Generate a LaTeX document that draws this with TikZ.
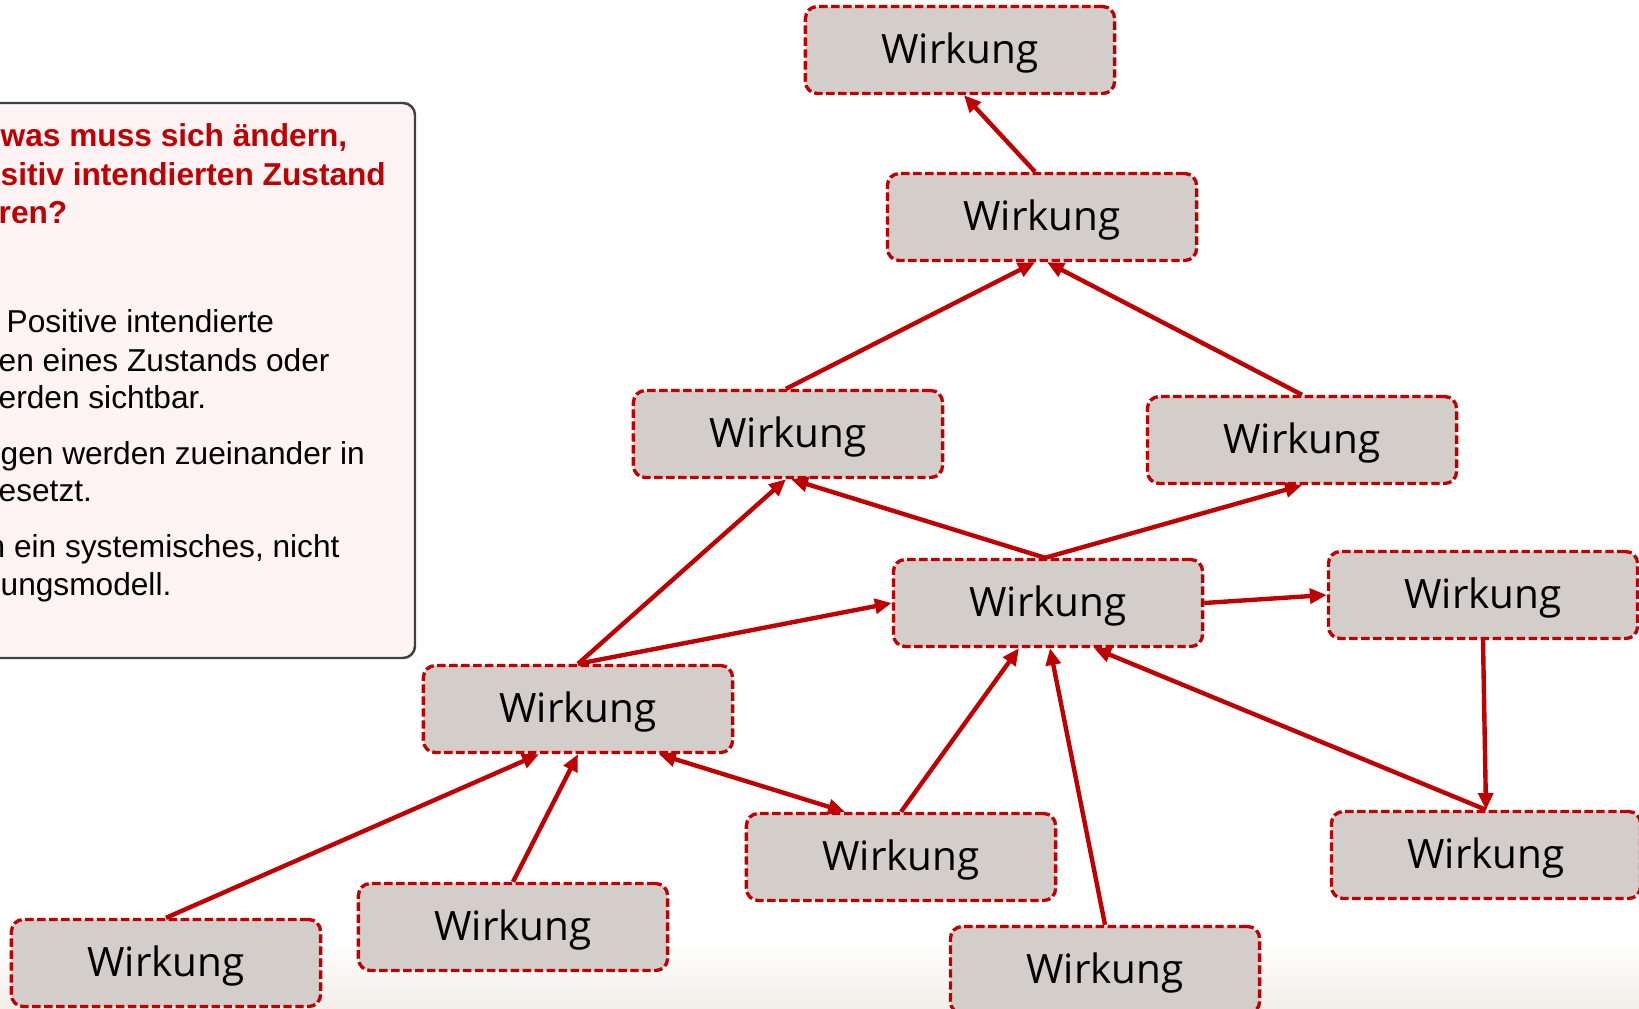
\documentclass[tikz,border=0pt]{standalone}
\usepackage{fontspec}
\setmainfont{Liberation Sans}
\newfontfamily\wirkfont{Open Sans}
\usetikzlibrary{arrows.meta, calc, positioning}
\definecolor{wirkred}{HTML}{C00000}
\definecolor{wirkgrey}{HTML}{D3CECA}
\definecolor{boxrose}{HTML}{FDF3F4}
\definecolor{boxline}{HTML}{404040}
\definecolor{floorbeige}{HTML}{F2EEE8}

\begin{document}
\begin{tikzpicture}[x=0.01cm,y=-0.01cm,
    >={Triangle[length=4.8pt,width=4.2pt]},
    wirk/.style={draw=wirkred,line width=0.95pt,dash pattern=on 2.4pt off 1pt,fill=wirkgrey,
      rounded corners=3.4pt,minimum width=3.09cm,minimum height=0.87cm,inner sep=0pt,
      text height=10.6pt,text depth=2.8pt,font=\wirkfont\fontsize{11.5}{13}\selectfont},
    pfeil/.style={->,line width=1.25pt,wirkred},
    zeile/.style={anchor=base west,inner sep=0pt,font=\fontsize{9}{11}\selectfont}]
    \useasboundingbox (0,0) rectangle (1639,1009);
    \shade[top color=white,bottom color=floorbeige] (0,940) rectangle (1639,1009);
    \draw[boxline,line width=0.7pt,fill=boxrose,rounded corners=3.4pt] (-20,103) rectangle (415,658);
    \foreach \i/\xx/\yy/\txt in {1/0/146/{was muss sich ändern,},2/0/185/{sitiv intendierten Zustand},3/-2/223/{ren?}}
      \node[zeile,wirkred,font=\bfseries\fontsize{9}{11}\selectfont] (frage\i) at (\xx,\yy) {\txt};
    \foreach \i/\xx/\yy/\txt in {1/6/332/{Positive intendierte},2/-2/371/{en eines Zustands oder},
        3/-2/408/{erden sichtbar.},4/0/464/{gen werden zueinander in},5/-2/501/{esetzt.},
        6/-13/557/{n ein systemisches, nicht},7/0/595/{ungsmodell.}}
      \node[zeile] (punkt\i) at (\xx,\yy) {\txt};
    \node[wirk] (w1) at (960,50) {Wirkung};
    \node[wirk] (w2) at (1042,217) {Wirkung};
    \node[wirk] (w3) at (788,434) {Wirkung};
    \node[wirk] (w4) at (1302,440) {Wirkung};
    \node[wirk] (w5) at (1048,603) {Wirkung};
    \node[wirk] (w6) at (1483,595) {Wirkung};
    \node[wirk] (w7) at (578,709) {Wirkung};
    \node[wirk] (w8) at (901,857) {Wirkung};
    \node[wirk] (w9) at (1486,855) {Wirkung};
    \node[wirk] (w10) at (166,963) {Wirkung};
    \node[wirk] (w11) at (513,927) {Wirkung};
    \node[wirk] (w12) at (1105,970) {Wirkung};
    \draw[pfeil] ($(w2.north)+(-7,0)$) -- ($(w1.south)+(4,0)$);
    \draw[pfeil] ($(w3.north)+(-2,0)$) -- ($(w2.south)+(-7,0)$);
    \draw[pfeil] (w4.north) -- ($(w2.south)+(5,0)$);
    \draw[pfeil] ($(w5.north)+(-3,0)$) -- ($(w3.south)+(3,0)$);
    \draw[pfeil] ($(w5.north)+(-3,0)$) -- (w4.south);
    \draw[pfeil] (w7.north) -- ($(w3.south)+(-2,0)$);
    \draw[pfeil] (w7.north) -- (w5.west);
    \draw[pfeil] (w5.east) -- (w6.west);
    \draw[pfeil] (w6.south) -- (w9.north);
    \draw[pfeil] (w9.north) -- ($(w5.south)+(46,0)$);
    \draw[pfeil] (w12.north) -- ($(w5.south)+(2,0)$);
    \draw[pfeil] (w8.north) -- ($(w5.south)+(-29,0)$);
    \draw[pfeil,<->] ($(w7.south)+(81,0)$) -- ($(w8.north)+(-56,0)$);
    \draw[pfeil] (w10.north) -- ($(w7.south)+(-39,0)$);
    \draw[pfeil] (w11.north) -- (w7.south);
\end{tikzpicture}
\end{document}
